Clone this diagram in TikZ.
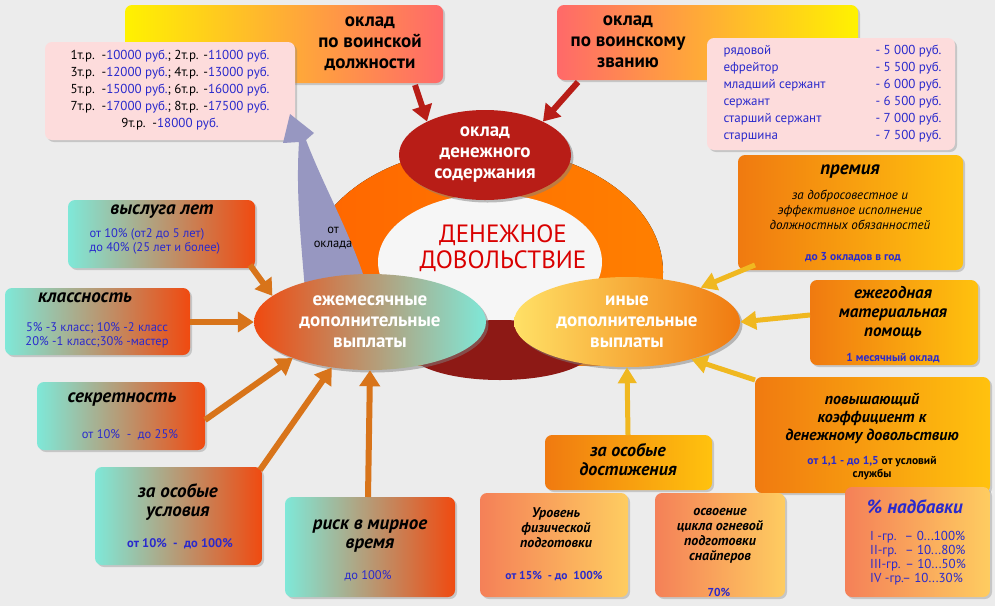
\documentclass[tikz,border=0pt]{standalone}
\usepackage{fontspec}
\setmainfont{PT Sans}
\usetikzlibrary{arrows.meta,shapes.geometric,shadows}
\definecolor{bg}{HTML}{ECECEC}
\definecolor{tealc}{HTML}{7FE8D8}
\definecolor{redo}{HTML}{F04A10}
\definecolor{orng}{HTML}{F07A10}
\definecolor{yel}{HTML}{FFC20E}
\definecolor{pinkt}{HTML}{FDDCDC}
\definecolor{blu}{HTML}{2A2ACC}
\definecolor{arrO}{HTML}{D8741A}
\definecolor{arrY}{HTML}{F0B820}
\definecolor{darkr}{HTML}{B0201A}
\tikzset{
  box/.style={rounded corners=7pt,draw=none,drop shadow={opacity=.35,shadow xshift=2pt,shadow yshift=-2pt}},
  lbox/.style={box,left color=tealc,right color=redo},
  obox/.style={box,left color=orng,right color=yel},
  pbox/.style={box,fill=pinkt},
  rbox/.style={box,left color=redo!70,right color=yel!60!pinkt},
  ttl/.style={font=\fontsize{19}{19}\selectfont\bfseries\itshape,align=center},
  sub/.style={font=\fontsize{12.5}{14}\selectfont,text=blu,align=center},
  oarr/.style={draw=arrO,line width=6pt,-{Triangle[length=16pt,width=20pt]}},
  yarr/.style={draw=arrY,line width=5pt,-{Triangle[length=16pt,width=18pt]}},
  rarr/.style={draw=darkr!90!red,line width=6pt,-{Triangle[length=16pt,width=20pt]}},
}
\begin{document}
\begin{tikzpicture}[x=1pt,y=-1pt]
\fill[bg] (0,0) rectangle (995,606);
\useasboundingbox (0,0) rectangle (995,606);
% top boxes
\path[box,left color=yellow!90!orange,right color=red!45!pink] (125,5) rectangle (443,83);
\node[font=\fontsize{19}{21}\selectfont\bfseries,align=center] (okd) at (370,44) {оклад\\по воинской\\должности};
\path[box,left color=red!45!pink,right color=yellow!90!orange] (557,5) rectangle (858,80);
\node[font=\fontsize{19}{21}\selectfont\bfseries,align=center] (okz) at (628,42) {оклад\\по воинскому\\званию};
\path[pbox] (45,42) rectangle (295,140);
\node[font=\fontsize{13}{17}\selectfont,align=center] (tab) at (170,90) {1т.р. \,-\textcolor{blu}{10000 руб.}; 2т.р. -\textcolor{blu}{11000 руб.}\\3т.р. \,-\textcolor{blu}{12000 руб.}; 4т.р. -\textcolor{blu}{13000 руб.}\\5т.р. \,-\textcolor{blu}{15000 руб.}; 6т.р. -\textcolor{blu}{16000 руб.}\\7т.р. \,-\textcolor{blu}{17000 руб.}; 8т.р. -\textcolor{blu}{17500 руб.}\\9т.р. \,-\textcolor{blu}{18000 руб.}};
\path[pbox] (707,38) rectangle (955,150);
\node[font=\fontsize{13}{17}\selectfont,text=blu,align=left,anchor=west] (rk) at (720,94) {рядовой\\ефрейтор\\младший сержант\\сержант\\старший сержант\\старшина};
\node[font=\fontsize{13}{17}\selectfont,text=blu,align=right,anchor=east] (rs) at (945,94) {- 5 000 руб.\\- 5 500 руб.\\- 6 000 руб.\\- 6 500 руб.\\- 7 000 руб.\\- 7 500 руб.};
% ring
\begin{scope}
\clip (290,140) rectangle (680,365);
\fill[left color=orange!80!red,right color=orange] (485,272) ellipse (178 and 124);
\fill[bg!50!white] (490,262) ellipse (112 and 68);
\end{scope}
\node[font=\fontsize{25}{26}\selectfont,text=red!85!black,align=center] (dd) at (503,248) {ДЕНЕЖНОЕ\\ДОВОЛЬСТВИЕ};
\fill[darkr!80!black] (500,350) ellipse (92 and 30);
% central
\node[ellipse,minimum width=172pt,minimum height=90pt,fill=darkr!90!red,text=white,font=\fontsize{19}{21}\selectfont\bfseries,align=center,drop shadow] (c) at (485,155) {оклад\\денежного\\содержания};
% curved arrow
\fill[blue!25!gray!65] (305,290) .. controls (300,230) and (296,190) .. (299,142) -- (283,143) -- (290,114) -- (314,133) -- (306,140) .. controls (325,190) and (352,235) .. (368,290) -- cycle;
\node[font=\fontsize{12.5}{14}\selectfont,align=center] (oo) at (333,238) {от\\оклада};
% ellipses
\node[ellipse,minimum width=232pt,minimum height=96pt,left color=redo,right color=tealc,text=white,font=\fontsize{19}{21}\selectfont\bfseries,align=center,drop shadow] (L) at (370,322) {ежемесячные\\дополнительные\\выплаты};
\node[ellipse,minimum width=226pt,minimum height=90pt,left color=orange!40!yellow!60,right color=orng,text=white,font=\fontsize{19}{21}\selectfont\bfseries,align=center,drop shadow] (R) at (627,322) {иные\\дополнительные\\выплаты};
% left boxes
\path[lbox] (68,200) rectangle (255,268);
\node[ttl] (v1) at (162,212) {выслуга лет};
\node[sub,anchor=north west,align=left] (v2) at (86,225) {от 10\% (от2 до 5 лет)\\до 40\% (25 лет и более)};
\path[lbox] (5,288) rectangle (190,355);
\node[ttl] (k1) at (85,298) {классность};
\node[sub] (k2) at (97,335) {5\% -3 класс; 10\% -2 класс\\20\% -1 класс;30\% -мастер};
\path[lbox] (37,382) rectangle (205,450);
\node[ttl] (s1) at (122,400) {секретность};
\node[sub] (s2) at (130,435) {от 10\% \ - \ до 25\%};
\path[lbox] (95,467) rectangle (262,565);
\node[ttl] (u1) at (178,502) {за особые\\условия};
\node[sub,font=\fontsize{12.5}{13}\selectfont\bfseries] (u2) at (180,544) {от 10\% \ - \ до 100\%};
\path[lbox] (285,497) rectangle (455,597);
\node[ttl] (r1) at (370,536) {риск в мирное\\время};
\node[sub] (r2) at (368,576) {до 100\%};
% right boxes
\path[obox] (738,155) rectangle (963,270);
\node[ttl] (p1) at (850,172) {премия};
\node[font=\fontsize{13}{15}\selectfont\itshape,align=center] (p2) at (850,210) {за добросовестное и\\эффективное исполнение\\должностных обязанностей};
\node[sub,font=\fontsize{11.5}{12}\selectfont\bfseries] (p3) at (853,257) {до 3 окладов в год};
\path[obox] (810,280) rectangle (978,365);
\node[ttl,font=\fontsize{17}{19}\selectfont\bfseries\itshape] (m1) at (893,312) {ежегодная\\материальная\\помощь};
\node[sub,font=\fontsize{11.5}{12}\selectfont\bfseries] (m2) at (893,358) {1 месячный оклад};
\path[obox] (755,377) rectangle (990,493);
\node[ttl,font=\fontsize{16}{18}\selectfont\bfseries\itshape] (q1) at (872,418) {повышающий\\коэффициент к\\денежному довольствию};
\node[font=\fontsize{11.5}{13}\selectfont\bfseries,align=center] (q2) at (872,468) {\textcolor{blu}{от 1,1 - до 1,5} от условий\\службы};
\path[obox] (545,435) rectangle (712,490);
\node[ttl,font=\fontsize{18}{19}\selectfont\bfseries\itshape] (d1) at (628,460) {за особые\\достижения};
\path[rbox] (480,493) rectangle (628,597);
\node[ttl,font=\fontsize{14}{15}\selectfont\bfseries\itshape] (f1) at (556,528) {Уровень\\физической\\подготовки};
\node[sub,font=\fontsize{11.5}{12}\selectfont\bfseries] (f2) at (554,576) {от 15\% \ - до \ 100\%};
\path[rbox] (655,493) rectangle (785,597);
\node[ttl,font=\fontsize{14}{15}\selectfont\bfseries\itshape] (o1) at (720,536) {освоение\\цикла огневой\\подготовки\\снайперов};
\node[sub,font=\fontsize{11.5}{12}\selectfont\bfseries] (o2) at (719,592) {70\%};
\path[rbox] (845,487) rectangle (990,597);
\node[font=\fontsize{19}{20}\selectfont\bfseries\itshape,text=blu] (n1) at (915,507) {\% надбавки};
\node[sub,align=left,font=\fontsize{13}{14}\selectfont] (n2) at (918,558) {I -гр. \ – 0...100\%\\II-гр. \ – 10...80\%\\III-гр. – 10...50\%\\IV -гр.– 10...30\%};
% arrows
\draw[rarr] (415,85) -- (c.150);
\draw[rarr] (578,82) -- (c.30);
\draw[oarr] (250,265) -- (L.165);
\draw[oarr] (190,322) -- (L.180);
\draw[oarr] (205,420) -- (L.205);
\draw[oarr] (260,470) -- (L.230);
\draw[oarr] (368,497) -- (L.south);
\draw[yarr] (755,265) -- (R.25);
\draw[yarr] (810,315) -- (R.0);
\draw[yarr] (755,380) -- (R.330);
\draw[yarr] (628,435) -- (R.south);
\end{tikzpicture}
\end{document}
